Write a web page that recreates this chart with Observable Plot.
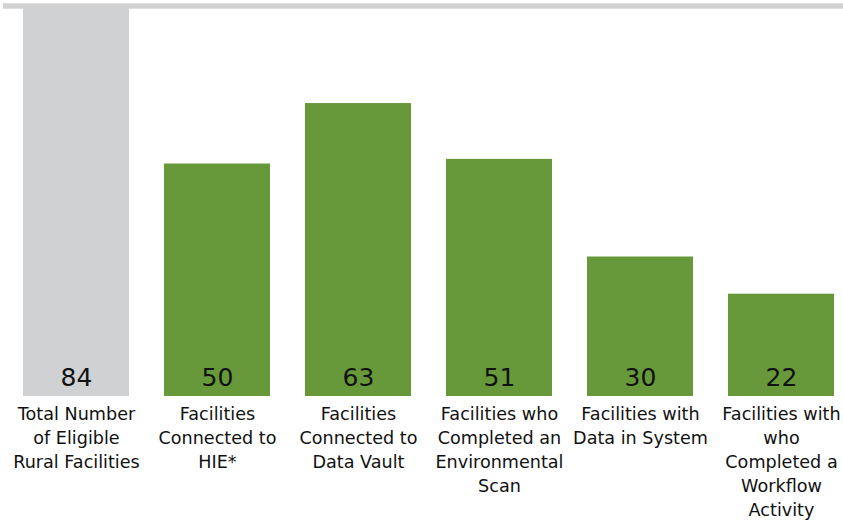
<!DOCTYPE html>
<html>
<head>
<meta charset="utf-8">
<script src="https://cdn.jsdelivr.net/npm/d3@7"></script>
<script src="https://cdn.jsdelivr.net/npm/@observablehq/plot@0.6"></script>
<style>
  html, body { margin: 0; padding: 0; background: #fff; }
  #chart { width: 843px; height: 520px; overflow: hidden; }
</style>
</head>
<body>
<div id="chart"></div>
<script>
const categories = [
  "Total Number\nof Eligible\nRural Facilities",
  "Facilities\nConnected to\nHIE*",
  "Facilities\nConnected to\nData Vault",
  "Facilities who\nCompleted an\nEnvironmental\nScan",
  "Facilities with\nData in System",
  "Facilities with\nwho\nCompleted a\nWorkflow\nActivity"
];
const values = [84, 50, 63, 51, 30, 22];
const kinds = ["total", "step", "step", "step", "step", "step"];

const data = categories.map((c, i) => ({ category: c, value: values[i], kind: kinds[i] }));
const maxValue = d3.max(values);

const chart = Plot.plot({
  width: 843,
  height: 520,
  marginLeft: 3,
  marginRight: 0,
  marginTop: 0,
  marginBottom: 0,
  style: { fontFamily: "'DejaVu Sans', sans-serif", background: "#fff", color: "#111" },
  x: { domain: categories, range: [-12.25, 869], padding: 0.25, axis: null },
  y: { domain: [0, maxValue], range: [396, 5.4], axis: null },
  color: { domain: ["total", "step"], range: ["#d0d1d3", "#67993a"] },
  marks: [
    Plot.barY(data, { x: "category", y: "value", fill: "kind" }),
    Plot.ruleY([maxValue], { stroke: "#d2d2d2", strokeWidth: 5.5 }),
    Plot.text(data, {
      x: "category", y: 0, text: d => String(d.value),
      dy: -19, fontSize: 25, fill: "#111", lineAnchor: "middle"
    }),
    Plot.text(data, {
      x: "category", y: 0, text: "category",
      dy: 6, fontSize: 17.6, lineHeight: 1.37, fill: "#111", lineAnchor: "top"
    })
  ]
});
document.getElementById("chart").appendChild(chart);
</script>
</body>
</html>
